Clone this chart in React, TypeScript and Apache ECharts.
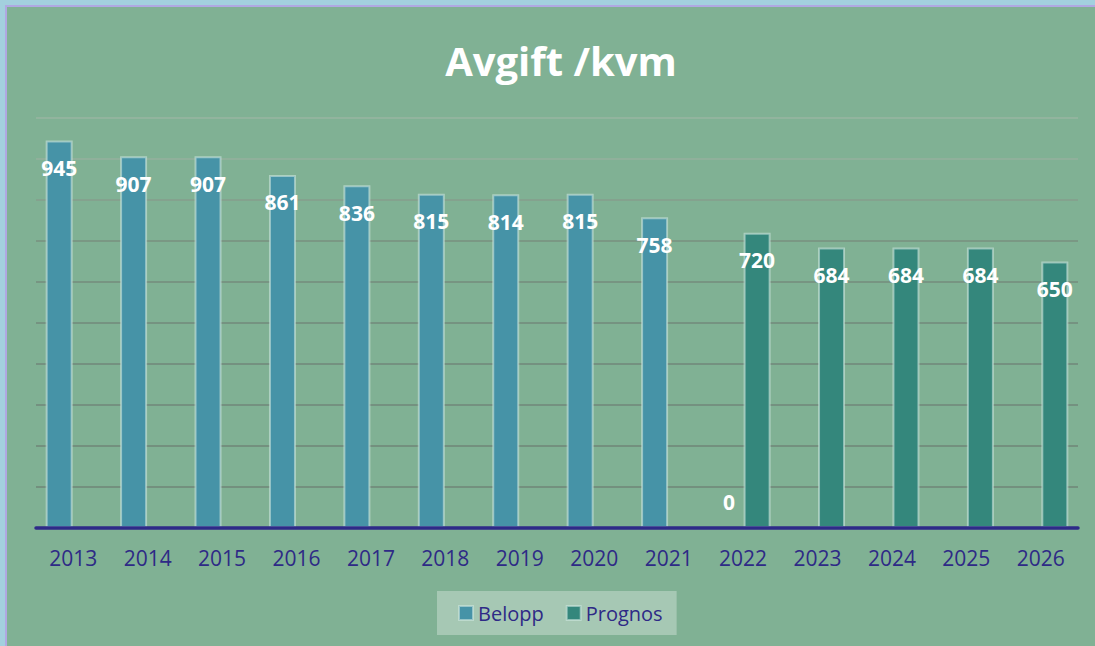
import React, { useEffect, useRef } from "react";
import * as echarts from "echarts";

const categories = ["2013", "2014", "2015", "2016", "2017", "2018", "2019", "2020", "2021", "2022", "2023", "2024", "2025", "2026"];
const belopp: (number | null)[] = [945, 907, 907, 861, 836, 815, 814, 815, 758, 0, null, null, null, null];
const prognos: (number | null)[] = [null, null, null, null, null, null, null, null, null, 720, 684, 684, 684, 650];
const titleText = "Avgift /kvm";
const seriesNames = ["Belopp", "Prognos"];

const FONT = "'Open Sans', 'Noto Sans', sans-serif";

export default function App() {
  const ref = useRef<HTMLDivElement>(null);
  useEffect(() => {
    if (!ref.current) return;
    const chart = echarts.init(ref.current, undefined, { renderer: "svg" });
    const labelBase = {
      show: true,
      position: "insideTop" as const,
      distance: 17,
      color: "#ffffff",
      fontFamily: FONT,
      fontWeight: "bold" as const,
      fontSize: 21,
    };
    const beloppData = belopp.map((v) =>
      v === 0 ? { value: v, label: { position: "top", distance: 15 } } : v
    );
    chart.setOption({
      animation: false,
      backgroundColor: "#80b194",
      title: {
        text: titleText,
        left: 549,
        textAlign: "center",
        top: 28,
        textStyle: { color: "#ffffff", fontFamily: FONT, fontWeight: "bold", fontSize: 40 },
      },
      legend: {
        data: seriesNames,
        left: 430,
        top: 584,
        backgroundColor: "rgba(255,255,255,0.3)",
        padding: [12, 14, 12, 21],
        itemGap: 22,
        itemWidth: 14,
        itemHeight: 14,
        icon: "rect",
        textStyle: { color: "#2e2a86", fontFamily: FONT, fontSize: 20 },
      },
      grid: { left: 29, right: 17, top: 111, bottom: 118, containLabel: false },
      xAxis: {
        type: "category",
        data: categories,
        axisLine: { show: true, lineStyle: { color: "#2e2a88", width: 3.5 } },
        axisTick: { show: false },
        axisLabel: { color: "#2e2a86", fontFamily: FONT, fontSize: 21, margin: 19, interval: 0 },
        z: 5,
      },
      yAxis: {
        type: "value",
        min: 0,
        max: 1000,
        interval: 100,
        axisLabel: { show: false },
        axisLine: { show: false },
        axisTick: { show: false },
        splitLine: {
          show: true,
          lineStyle: {
            width: 1.5,
            color: [
              "#6f8677", "#6f8677", "#6f8677", "#70877a", "#70877a", "#728a7b",
              "#748c7d", "#78907f", "#869e8c", "#96b19e", "#99b6a2",
            ],
          },
        },
      },
      series: [
        {
          name: seriesNames[0],
          type: "bar",
          data: beloppData,
          barWidth: 27,
          barGap: "4%",
          itemStyle: { color: "#4693a7", borderColor: "rgba(205,230,222,0.6)", borderWidth: 2 },
          label: labelBase,
        },
        {
          name: seriesNames[1],
          type: "bar",
          data: prognos,
          barWidth: 27,
          itemStyle: { color: "#34877c", borderColor: "rgba(205,230,222,0.6)", borderWidth: 2 },
          label: labelBase,
        },
      ],
    });
    return () => chart.dispose();
  }, []);
  return (
    <div style={{ position: "fixed", left: 0, top: 0, width: 1095, height: 646, background: "#a3d0de", overflow: "hidden" }}>
      <div
        style={{
          position: "absolute",
          left: 5,
          top: 5,
          width: 1090,
          height: 641,
          borderLeft: "2px solid #b0a8e2",
          borderTop: "2px solid #b0a8e2",
          boxSizing: "border-box",
          background: "#80b194",
        }}
      >
        <div ref={ref} style={{ width: 1088, height: 639 }} />
      </div>
    </div>
  );
}
